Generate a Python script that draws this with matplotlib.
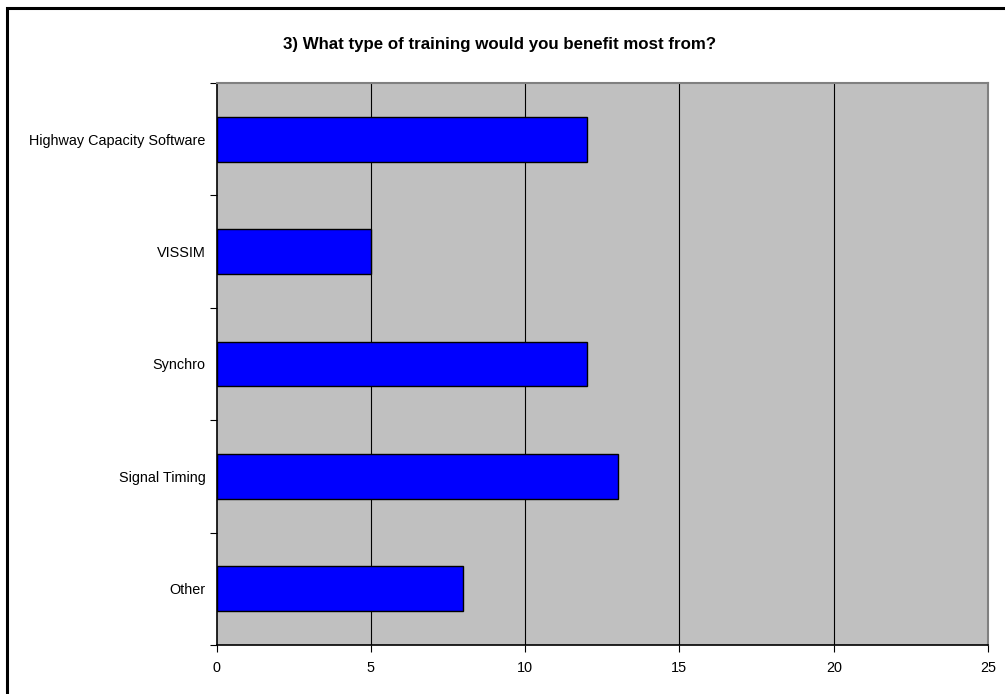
import matplotlib
matplotlib.use("Agg")
import matplotlib.pyplot as plt
from matplotlib.patches import Rectangle
from matplotlib.ticker import FixedLocator, NullFormatter

plt.rcParams['font.family'] = ['Liberation Sans', 'DejaVu Sans']

title = "3) What type of training would you benefit most from?"
categories = ["Highway Capacity Software", "VISSIM", "Synchro", "Signal Timing", "Other"]
values = [12, 5, 12, 13, 8]
xticks = [0, 5, 10, 15, 20, 25]

fig = plt.figure(figsize=(10.05, 6.94), dpi=100)
fig.patches.append(Rectangle((7 / 1005, -0.05), 1.2, 1 - 7.5 / 694 + 0.05, transform=fig.transFigure,
                             fill=False, edgecolor='black', linewidth=2.2))
ax = fig.add_axes([216.5 / 1005, 1 - 645 / 694, (988 - 216.5) / 1005, (645 - 83) / 694])
ax.set_facecolor('#C0C0C0')

n = len(categories)
ypos = list(range(n))
ax.barh(ypos, values, height=0.4, color='#0000FF', edgecolor='black', linewidth=1.0, zorder=3)
ax.set_ylim(n - 0.5, -0.5)
ax.set_xlim(0, 25)
ax.set_yticks(ypos)
ax.set_yticklabels(categories, fontsize=10.4)
ax.tick_params(axis='y', length=0, pad=8)
ax.yaxis.set_minor_locator(FixedLocator([i - 0.5 for i in range(n + 1)]))
ax.yaxis.set_minor_formatter(NullFormatter())
ax.tick_params(axis='y', which='minor', length=5, width=0.8, direction='out')
ax.set_xticks(xticks)
ax.set_xticklabels([str(t) for t in xticks], fontsize=10.4)
ax.tick_params(axis='x', length=5, width=0.8, direction='out', pad=6.5)

for t in xticks[1:-1]:
    ax.axvline(t, color='black', linewidth=0.8, zorder=1)

ax.spines['left'].set_color('black')
ax.spines['bottom'].set_color('black')
ax.spines['left'].set_linewidth(1.2)
ax.spines['bottom'].set_linewidth(1.2)
ax.spines['top'].set_color('#808080')
ax.spines['right'].set_color('#808080')
ax.spines['top'].set_linewidth(1.5)
ax.spines['right'].set_linewidth(1.5)

fig.text(500 / 1005, 1 - 44 / 694, title, ha='center', va='center', fontsize=12.2, fontweight='bold')

fig.savefig('out.png', dpi=100)
